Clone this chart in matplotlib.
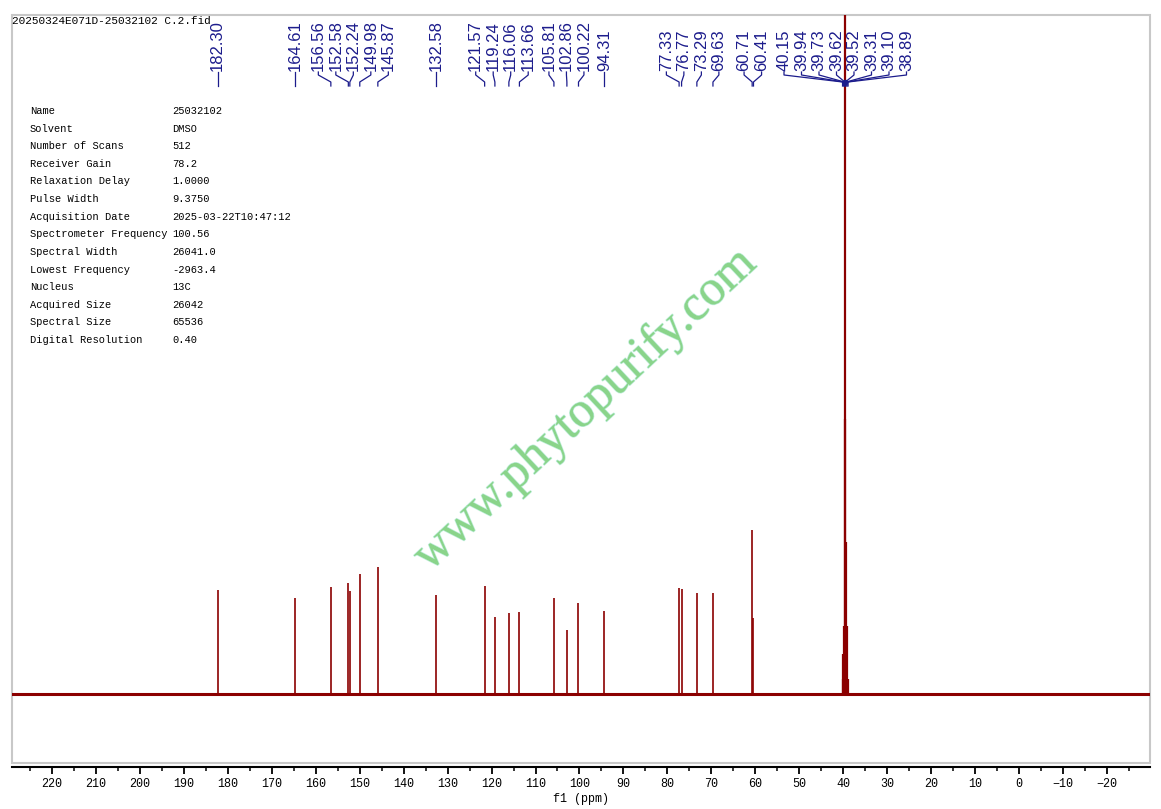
import matplotlib
matplotlib.use('Agg')
import matplotlib.pyplot as plt
import matplotlib.transforms as mtransforms
import matplotlib.patheffects as pe
from matplotlib.patches import Rectangle
from matplotlib.ticker import MultipleLocator
import numpy as np


# 13C peaks (ppm) and heights (baseline = 0)
peak_ppm = [182.30, 164.61, 156.56, 152.58, 152.24, 149.98, 145.87, 132.58,
            121.57, 119.24, 116.06, 113.66, 105.81, 102.86, 100.22, 94.31,
            77.33, 76.77, 73.29, 69.63, 60.71, 60.41]
peak_height = [104, 96, 107, 111, 103, 120, 127, 99,
               108, 77, 81, 82, 96, 64, 91, 83,
               106, 105, 101, 101, 164, 76]

# DMSO solvent multiplet
solvent_ppm = [40.15, 39.94, 39.73, 39.62, 39.52, 39.31, 39.10, 38.89]
solvent_height = [15, 40, 68, 275, 1000, 152, 68, 15]

info_keys = ['Name', 'Solvent', 'Number of Scans', 'Receiver Gain',
             'Relaxation Delay', 'Pulse Width', 'Acquisition Date',
             'Spectrometer Frequency', 'Spectral Width', 'Lowest Frequency',
             'Nucleus', 'Acquired Size', 'Spectral Size', 'Digital Resolution']
info_vals = ['25032102', 'DMSO', '512', '78.2', '1.0000', '9.3750',
             '2025-03-22T10:47:12', '100.56', '26041.0', '-2963.4',
             '13C', '26042', '65536', '0.40']

file_title = '20250324E071D-25032102 C.2.fid'
watermark = 'www.phytopurify.com'

W, H = 1161, 809
RED = '#8b0000'
NAVY = '#1c1c8c'
MONO = 'Liberation Mono'

x_left, x_right = 229.1, -29.8

fig = plt.figure(figsize=(W / 100, H / 100), dpi=100)
ax_l, ax_r, ax_t, ax_b = 12, 1150, 15, 763
ax = fig.add_axes([ax_l / W, 1 - ax_b / H, (ax_r - ax_l) / W, (ax_b - ax_t) / H])
ax.set_xlim(x_left, x_right)
ax.set_ylim(-69, 679)


def fy(py):
    # pixel row -> axes fraction
    return (ax_b - py) / (ax_b - ax_t)


# spectrum
ax.axhline(0, color=RED, lw=2.2)
ax.vlines(peak_ppm, 0, peak_height, color=RED, lw=1.2)
ax.vlines(solvent_ppm, 0, solvent_height, color=RED, lw=1.6)

# frame and axis
for s in ['top', 'left', 'right']:
    ax.spines[s].set_visible(False)
ax.add_patch(Rectangle((0, 0), 1, 1, transform=ax.transAxes, fill=False,
                       ec='#c8c8c8', lw=1.5, clip_on=False, zorder=0))
ax.spines['bottom'].set_position(('outward', 3))
ax.spines['bottom'].set_linewidth(1.5)
ax.set_yticks([])
ax.xaxis.set_major_locator(MultipleLocator(10))
ax.xaxis.set_minor_locator(MultipleLocator(5))
ax.tick_params(axis='x', which='major', direction='out', length=5, width=1.3,
               pad=3, labelsize=8.5)
ax.tick_params(axis='x', which='minor', direction='out', length=3, width=1.1)
for lab in ax.get_xticklabels():
    lab.set_family(MONO)
ax.set_xlabel('f1 (ppm)', family=MONO, fontsize=8.5, labelpad=2)


# peak labels, spread so they do not overlap
def spread(pos, gap):
    clusters = [[p] for p in pos]
    changed = True
    while changed:
        changed = False
        out = [clusters[0]]
        for c in clusters[1:]:
            prev = out[-1]
            prev_end = np.mean(prev) + (len(prev) - 1) * gap / 2
            c_start = np.mean(c) - (len(c) - 1) * gap / 2
            if c_start - prev_end < gap:
                out[-1] = prev + c
                changed = True
            else:
                out.append(c)
        clusters = out
    res = []
    for c in clusters:
        m, n = np.mean(c), len(c)
        res += [m + (i - (n - 1) / 2) * gap for i in range(n)]
    return res


label_ppm = peak_ppm + solvent_ppm
px_per_ppm = (ax_r - ax_l) / (x_left - x_right)
u = [(x_left - p) * px_per_ppm for p in label_ppm]
u_lab = spread(u, 17.5)
lab_ppm = [x_left - v / px_per_ppm for v in u_lab]

trans = mtransforms.blended_transform_factory(ax.transData, ax.transAxes)
for p, lp in zip(label_ppm, lab_ppm):
    ax.text(lp, fy(71), f'{p:.2f}', rotation=90, ha='center', va='bottom',
            transform=trans, fontsize=12, color=NAVY, family='Liberation Sans',
            clip_on=False)
    ax.plot([lp, lp, p, p], [fy(72), fy(75), fy(82), fy(86)], color=NAVY,
            lw=0.9, transform=trans, clip_on=False)
ax.plot([39.52], [fy(82)], 'o', ms=3, color=NAVY, transform=trans, clip_on=False)

# acquisition table
fig.text(ax_l / W, 1 - 21 / H, file_title, family=MONO, fontsize=8,
         va='center', ha='left')
row0, row_step = 111, (340 - 111) / 13
for i, (k, v) in enumerate(zip(info_keys, info_vals)):
    yy = 1 - (row0 + i * row_step) / H
    fig.text(30 / W, yy, k, family=MONO, fontsize=7.5, va='center')
    fig.text(172 / W, yy, v, family=MONO, fontsize=7.5, va='center')

# watermark
fig.text(585 / W, 1 - 410 / H, watermark, rotation=43, ha='center',
         va='center', fontsize=36, family='Liberation Serif', color='#8ad48a',
         path_effects=[pe.withStroke(linewidth=1.0, foreground='#c0eedc')])

fig.savefig('out.png', dpi=100)
